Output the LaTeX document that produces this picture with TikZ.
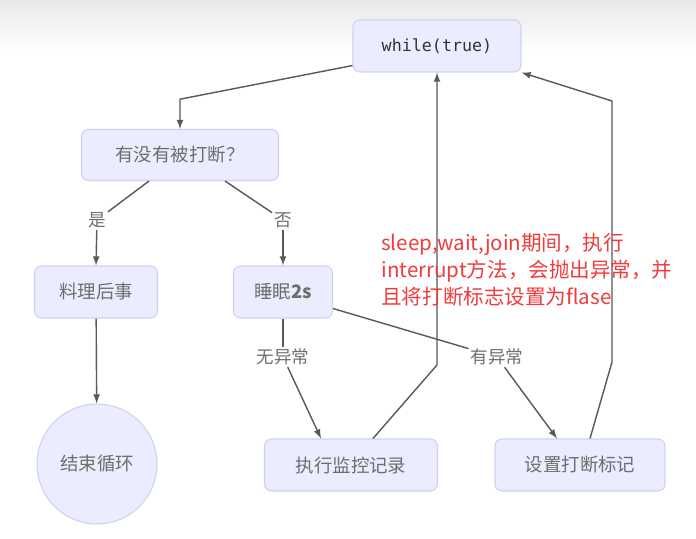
\documentclass[tikz,border=0pt]{standalone}
\usepackage{fontspec}
\setmonofont{DejaVu Sans Mono}
\newfontfamily\cjk{Noto Sans CJK SC}
\usetikzlibrary{arrows}
\definecolor{boxfill}{HTML}{ECECFF}
\definecolor{boxline}{HTML}{CFCFF5}
\definecolor{lineclr}{HTML}{595959}
\definecolor{txtclr}{HTML}{6E6E6E}
\definecolor{noteclr}{HTML}{F03C3C}
\tikzset{
    box/.style={draw=boxline,fill=boxfill,rounded corners=4pt,line width=0.6pt,
        minimum height=1.04cm,font=\cjk\fontsize{10.5}{12}\selectfont,text=txtclr},
    lbl/.style={fill=white,inner sep=1pt,font=\cjk\fontsize{10}{12}\selectfont,text=txtclr},
    conn/.style={draw=lineclr,line width=0.8pt},
    arr/.style={conn,-latex}
}
\begin{document}
\begin{tikzpicture}[x=0.02cm,y=-0.02cm]
    \useasboundingbox (0,0) rectangle (696,538);
    \fill[white] (0,0) rectangle (696,538);
    \shade[top color=black!9,bottom color=white] (0,0) rectangle (696,50);

    \node[box,minimum width=3.36cm,text=black!80,font=\ttfamily\fontsize{9.5}{12}\selectfont] (loop) at (437,46) {while(true)};
    \node[box,minimum width=3.94cm,minimum height=1.02cm] (ask) at (180,155) {有没有被打断？};
    \node[box,minimum width=2.46cm] (cleanup) at (96,292) {料理后事};
    \node[box,minimum width=1.98cm] (sleep) at (283,292) {睡眠\textbf{2s}};
    \node[box,circle,minimum size=2.4cm,inner sep=0pt] (stop) at (97,464) {结束循环};
    \node[box,minimum width=3.46cm] (record) at (351,465) {执行监控记录};
    \node[box,minimum width=3.4cm] (flag) at (580,465) {设置打断标记};

    % labels on the branches
    \node[lbl] (yes) at (97,220) {是};
    \node[lbl] (no) at (283,220) {否};
    \node[lbl] (noexc) at (283,357) {无异常};
    \node[lbl] (exc) at (497,357) {有异常};

    \coordinate (bendA) at (181,99);
    \coordinate (bendB) at (437,365);
    \coordinate (bendC) at (612,362);
    \coordinate (bendD) at (612,101);

    % loop head to question
    \draw[arr] ([yshift=0.14cm]loop.south west) -- (bendA) -- (ask.north |- bendA) -- (ask.north);

    % question branches
    \draw[conn] ([xshift=-0.62cm]ask.south) -- (yes);
    \draw[arr] (yes) -- (cleanup.north);
    \draw[conn] ([xshift=0.9cm]ask.south) -- (no);
    \draw[arr] (no) -- (sleep.north);
    \draw[arr] (cleanup) -- (stop);

    % sleep outcomes
    \draw[conn] (sleep.south) -- (noexc);
    \draw[arr] (noexc) -- ([xshift=-0.6cm]record.north);
    \draw[conn] ([yshift=0.2cm]sleep.south east) -- (exc);
    \draw[arr] (exc) -- ([xshift=-0.46cm]flag.north);

    % back to the loop
    \draw[arr] ([xshift=0.44cm]record.north) -- (bendB) -- (loop.south);
    \draw[arr] ([xshift=0.2cm]flag.north) -- (bendC) -- (bendD) -- (loop.south east);

    \node[anchor=north west,align=left,inner sep=0pt,text=noteclr,
        font=\cjk\fontsize{11.7}{15.4}\selectfont] (note) at (381,233)
        {sleep,wait,join期间，执行\\interrupt方法，会抛出异常，并\\且将打断标志设置为flase};
\end{tikzpicture}
\end{document}
